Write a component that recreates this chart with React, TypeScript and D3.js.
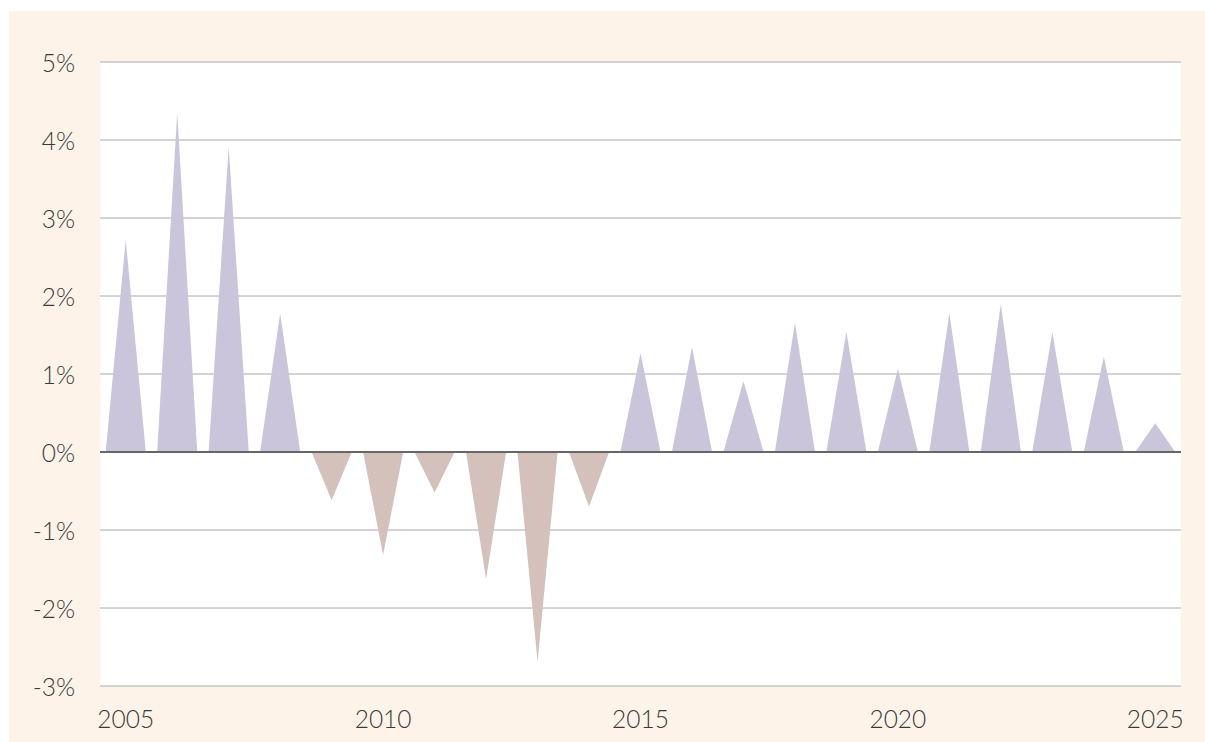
import React from "react";
import * as d3 from "d3";

const years = [2005, 2006, 2007, 2008, 2009, 2010, 2011, 2012, 2013, 2014, 2015, 2016, 2017, 2018, 2019, 2020, 2021, 2022, 2023, 2024, 2025];
const values = [2.72, 4.35, 3.91, 1.78, -0.62, -1.32, -0.52, -1.63, -2.69, -0.7, 1.27, 1.35, 0.91, 1.66, 1.54, 1.07, 1.78, 1.9, 1.54, 1.22, 0.37];
const yTicks = [-3, -2, -1, 0, 1, 2, 3, 4, 5];
const xTickYears = [2005, 2010, 2015, 2020, 2025];

const W = 1205;
const H = 742;
const plot = { left: 100, right: 1181, top: 62, bottom: 686 };

export default function App() {
  const x = d3.scaleBand<number>().domain(years).range([plot.left, plot.right]).padding(0);
  const y = d3.scaleLinear().domain([-3, 5]).range([plot.bottom, plot.top]);
  const half = x.bandwidth() * 0.39;
  const area = d3.area<[number, number]>().x((d) => d[0]).y0(y(0)).y1((d) => d[1]);
  const font = "Lato, 'Open Sans', sans-serif";

  return (
    <div style={{ position: "absolute", left: 0, top: 0 }}>
      <svg width={W} height={H} style={{ display: "block" }}>
        <rect x={9} y={11} width={W - 9} height={H - 11} fill="#fef3e8" />
        <rect x={plot.left} y={plot.top} width={plot.right - plot.left} height={plot.bottom - plot.top} fill="#ffffff" />
        {yTicks.map((t) => (
          <line
            key={t}
            x1={plot.left}
            x2={plot.right}
            y1={y(t)}
            y2={y(t)}
            stroke={t === 5 ? "#c4c4c4" : "#a8a8a8"}
            strokeWidth={t === 5 ? 1.6 : 1}
          />
        ))}
        {years.map((yr, i) => {
          const c = (x(yr) as number) + x.bandwidth() / 2;
          const v = values[i];
          const pts: [number, number][] = [
            [c - half, y(0)],
            [c, y(v)],
            [c + half, y(0)],
          ];
          return <path key={yr} d={area(pts) as string} fill={v >= 0 ? "#cbc5dc" : "#d5c1bb"} />;
        })}
        <line x1={plot.left} x2={plot.right} y1={y(0)} y2={y(0)} stroke="#666" strokeWidth={2} />
        {yTicks.map((t) => (
          <text
            key={t}
            x={75}
            y={y(t)}
            textAnchor="end"
            dominantBaseline="central"
            fontFamily={font}
            fontSize={24.5}
            fontWeight={300}
            fill="#3a3a3a"
          >
            {`${t}%`}
          </text>
        ))}
        {xTickYears.map((yr) => (
          <text
            key={yr}
            x={(x(yr) as number) + x.bandwidth() / 2}
            y={728}
            textAnchor="middle"
            fontFamily={font}
            fontSize={24.5}
            fontWeight={300}
            fill="#3a3a3a"
          >
            {yr}
          </text>
        ))}
      </svg>
    </div>
  );
}
